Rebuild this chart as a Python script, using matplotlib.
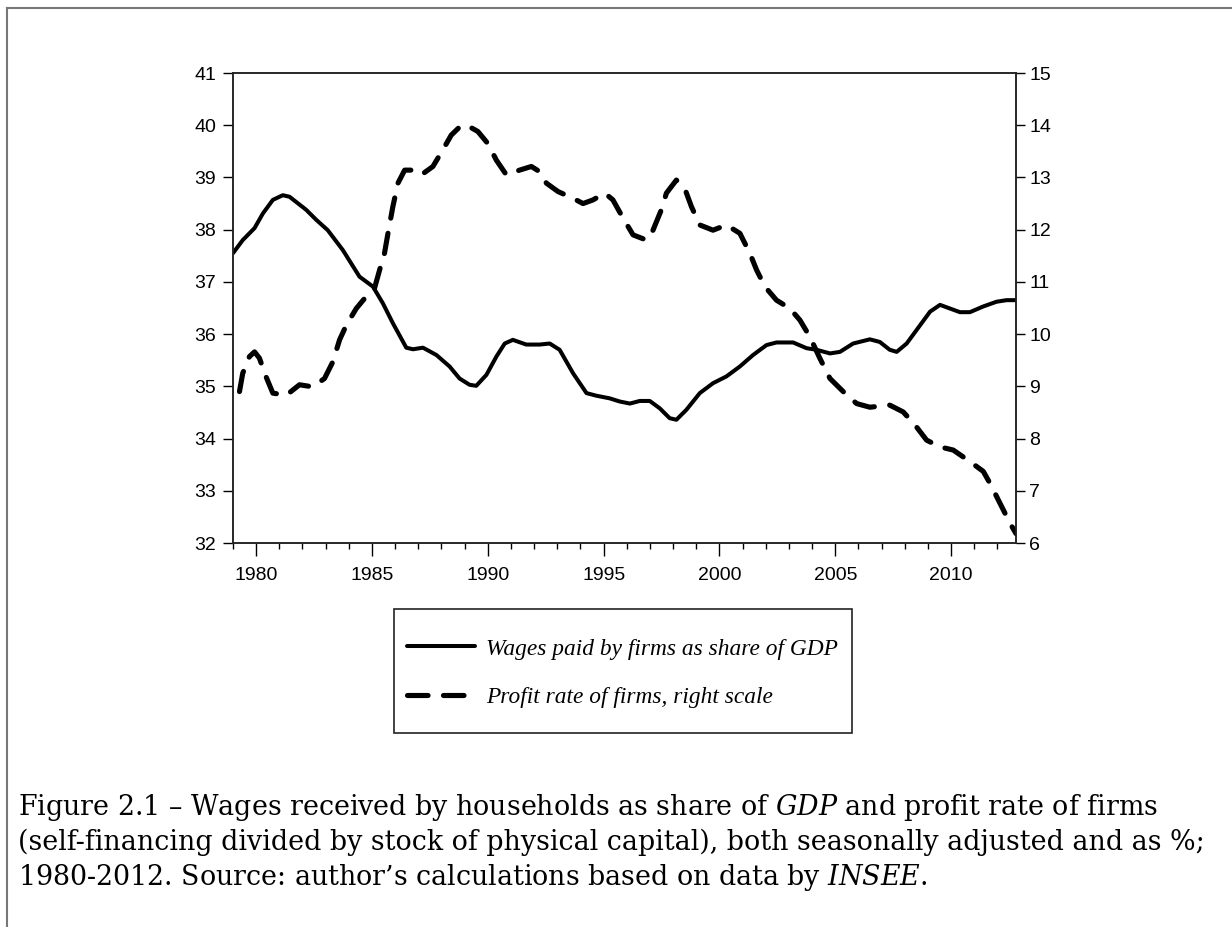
import matplotlib
matplotlib.use("Agg")
import matplotlib.pyplot as plt
from matplotlib.lines import Line2D
from matplotlib.patches import Rectangle

# ---- data ----
wage_years = [1979.0, 1979.42, 1979.93, 1980.29, 1980.72, 1981.15, 1981.44, 1982.16, 1982.59, 1983.09,
              1983.74, 1984.46, 1985.04, 1985.47, 1985.90, 1986.48, 1986.77, 1987.2, 1987.78, 1988.35,
              1988.78, 1989.21, 1989.50, 1989.94, 1990.37, 1990.73, 1991.08, 1991.66, 1992.24, 1992.67,
              1993.10, 1993.68, 1994.26, 1994.69, 1995.26, 1995.69, 1996.13, 1996.56, 1996.99, 1997.42,
              1997.85, 1998.14, 1998.57, 1999.15, 1999.72, 2000.30, 2000.88, 2001.45, 2002.03, 2002.46,
              2003.18, 2003.76, 2004.19, 2004.77, 2005.20, 2005.77, 2006.49, 2006.92, 2007.35, 2007.65,
              2008.08, 2008.66, 2009.09, 2009.52, 2009.95, 2010.38, 2010.81, 2011.39, 2011.96, 2012.39,
              2012.8]
wage_share = [37.55, 37.80, 38.03, 38.31, 38.57, 38.66, 38.63, 38.38, 38.19, 37.99,
              37.61, 37.10, 36.91, 36.59, 36.21, 35.74, 35.71, 35.74, 35.60, 35.38,
              35.15, 35.03, 35.01, 35.22, 35.57, 35.82, 35.89, 35.80, 35.80, 35.82,
              35.70, 35.25, 34.87, 34.82, 34.77, 34.71, 34.67, 34.72, 34.72, 34.58,
              34.39, 34.36, 34.55, 34.87, 35.06, 35.19, 35.38, 35.60, 35.79, 35.84,
              35.84, 35.73, 35.70, 35.63, 35.66, 35.82, 35.90, 35.85, 35.70, 35.66,
              35.82, 36.17, 36.43, 36.56, 36.49, 36.42, 36.42, 36.53, 36.62, 36.65,
              36.65]

profit_years = [1979.28, 1979.42, 1979.71, 1979.93, 1980.14, 1980.43, 1980.72, 1981.30, 1981.87, 1982.44,
                1982.95, 1983.31, 1983.60, 1983.89, 1984.32, 1984.75, 1985.11, 1985.33, 1985.54, 1985.69,
                1985.90, 1986.12, 1986.41, 1986.70, 1987.13, 1987.63, 1988.06, 1988.42, 1988.86, 1989.21,
                1989.57, 1990.00, 1990.37, 1990.80, 1991.37, 1991.88, 1992.24, 1992.53, 1993.03, 1993.68,
                1994.11, 1994.54, 1995.05, 1995.40, 1995.84, 1996.27, 1996.85, 1997.13, 1997.49, 1997.71,
                1998.14, 1998.50, 1998.79, 1999.15, 1999.72, 2000.30, 2000.88, 2001.31, 2001.60, 2001.96,
                2002.46, 2003.04, 2003.47, 2003.90, 2004.33, 2004.77, 2005.34, 2005.92, 2006.49, 2007.35,
                2007.93, 2008.44, 2008.94, 2009.52, 2010.09, 2010.81, 2011.39, 2011.68, 2012.11, 2012.54,
                2012.8]
profit_rate = [8.90, 9.25, 9.57, 9.66, 9.54, 9.18, 8.87, 8.83, 9.03, 8.99,
               9.15, 9.47, 9.89, 10.17, 10.49, 10.72, 10.88, 11.23, 11.55, 11.93,
               12.44, 12.89, 13.14, 13.14, 13.05, 13.21, 13.53, 13.81, 14.00, 13.97,
               13.88, 13.65, 13.33, 13.05, 13.14, 13.21, 13.11, 12.89, 12.73, 12.60,
               12.50, 12.57, 12.70, 12.57, 12.22, 11.90, 11.80, 11.99, 12.38, 12.70,
               12.95, 12.79, 12.44, 12.09, 11.99, 12.09, 11.93, 11.55, 11.23, 10.91,
               10.65, 10.49, 10.27, 9.95, 9.54, 9.15, 8.90, 8.67, 8.60, 8.64,
               8.51, 8.26, 7.97, 7.84, 7.78, 7.56, 7.37, 7.14, 6.76, 6.38,
               6.18]

x_major = [1980, 1985, 1990, 1995, 2000, 2005, 2010]
x_minor = list(range(1979, 2013))
left_ticks = [32, 33, 34, 35, 36, 37, 38, 39, 40, 41]
right_ticks = [6, 7, 8, 9, 10, 11, 12, 13, 14, 15]

label_wage = "Wages paid by firms as share of GDP"
label_profit = "Profit rate of firms, right scale"
caption_lines = [
    r"Figure 2.1 – Wages received by households as share of $\mathit{GDP}$ and profit rate of firms",
    "(self-financing divided by stock of physical capital), both seasonally adjusted and as %;",
    r"1980-2012. Source: author’s calculations based on data by $\mathit{INSEE}$.",
]

# ---- figure ----
W, H = 1232, 927
plt.rcParams['mathtext.fontset'] = 'dejavuserif'
fig = plt.figure(figsize=(W / 100, H / 100), dpi=100)
fig.patch.set_facecolor('white')

def fx(px):
    return px / W

def fy(py):
    return 1 - py / H

ax = fig.add_axes([fx(233), fy(543), fx(1016) - fx(233), fy(73) - fy(543)])
ax2 = ax.twinx()

l1, = ax.plot(wage_years, wage_share, color='black', lw=2.9, solid_joinstyle='round',
              solid_capstyle='round')
l2, = ax2.plot(profit_years, profit_rate, color='black', lw=3.7, dash_capstyle='round',
               dash_joinstyle='round')
l2.set_dashes((4.0, 3.0))

ax.set_xlim(1979.0, 2012.8)
ax.set_ylim(32, 41)
ax2.set_ylim(6, 15)

tick_font = dict(family='Liberation Sans', size=14)
ax.set_xticks(x_major)
ax.set_xticks(x_minor, minor=True)
ax.set_xticklabels([str(v) for v in x_major], **tick_font)
ax.set_yticks(left_ticks)
ax.set_yticklabels([str(v) for v in left_ticks], **tick_font)
ax2.set_yticks(right_ticks)
ax2.set_yticklabels([str(v) for v in right_ticks], **tick_font)

ax.tick_params(axis='x', which='major', length=9, width=1.0, direction='out', pad=8)
ax.tick_params(axis='x', which='minor', length=4.5, width=1.0, direction='out')
ax.tick_params(axis='y', which='major', length=7, width=1.0, direction='out', pad=5)
ax2.tick_params(axis='y', which='major', length=6.5, width=1.0, direction='out', pad=3)
for a in (ax, ax2):
    for s in a.spines.values():
        s.set_linewidth(1.1)
        s.set_color('#222222')

# legend
fig.add_artist(Rectangle((fx(394), fy(733)), fx(852) - fx(394), fy(609) - fy(733),
                         transform=fig.transFigure, fill=False, edgecolor='#222222', lw=1.2))
leg = ax.legend([l1, l2], [label_wage, label_profit], loc='center left',
                bbox_to_anchor=(fx(407), fy(673)), bbox_transform=fig.transFigure,
                frameon=False, borderpad=0, borderaxespad=0, handlelength=2.9,
                handletextpad=0.5, labelspacing=1.15,
                prop=dict(family='Liberation Serif', style='italic', size=16.8))

# caption
ys = [815, 850, 885]
for txt, yb in zip(caption_lines, ys):
    fig.text(fx(18), fy(yb), txt, family='DejaVu Serif', fontsize=19.4, va='baseline', ha='left')

# frame lines
fig.add_artist(Line2D([fx(7), 1.0], [fy(7.5), fy(7.5)], transform=fig.transFigure,
                      color='#777777', lw=1.5))
fig.add_artist(Line2D([fx(7), fx(7)], [fy(7.5), 0.0], transform=fig.transFigure,
                      color='#777777', lw=1.5))

fig.savefig('out.png', dpi=100)
